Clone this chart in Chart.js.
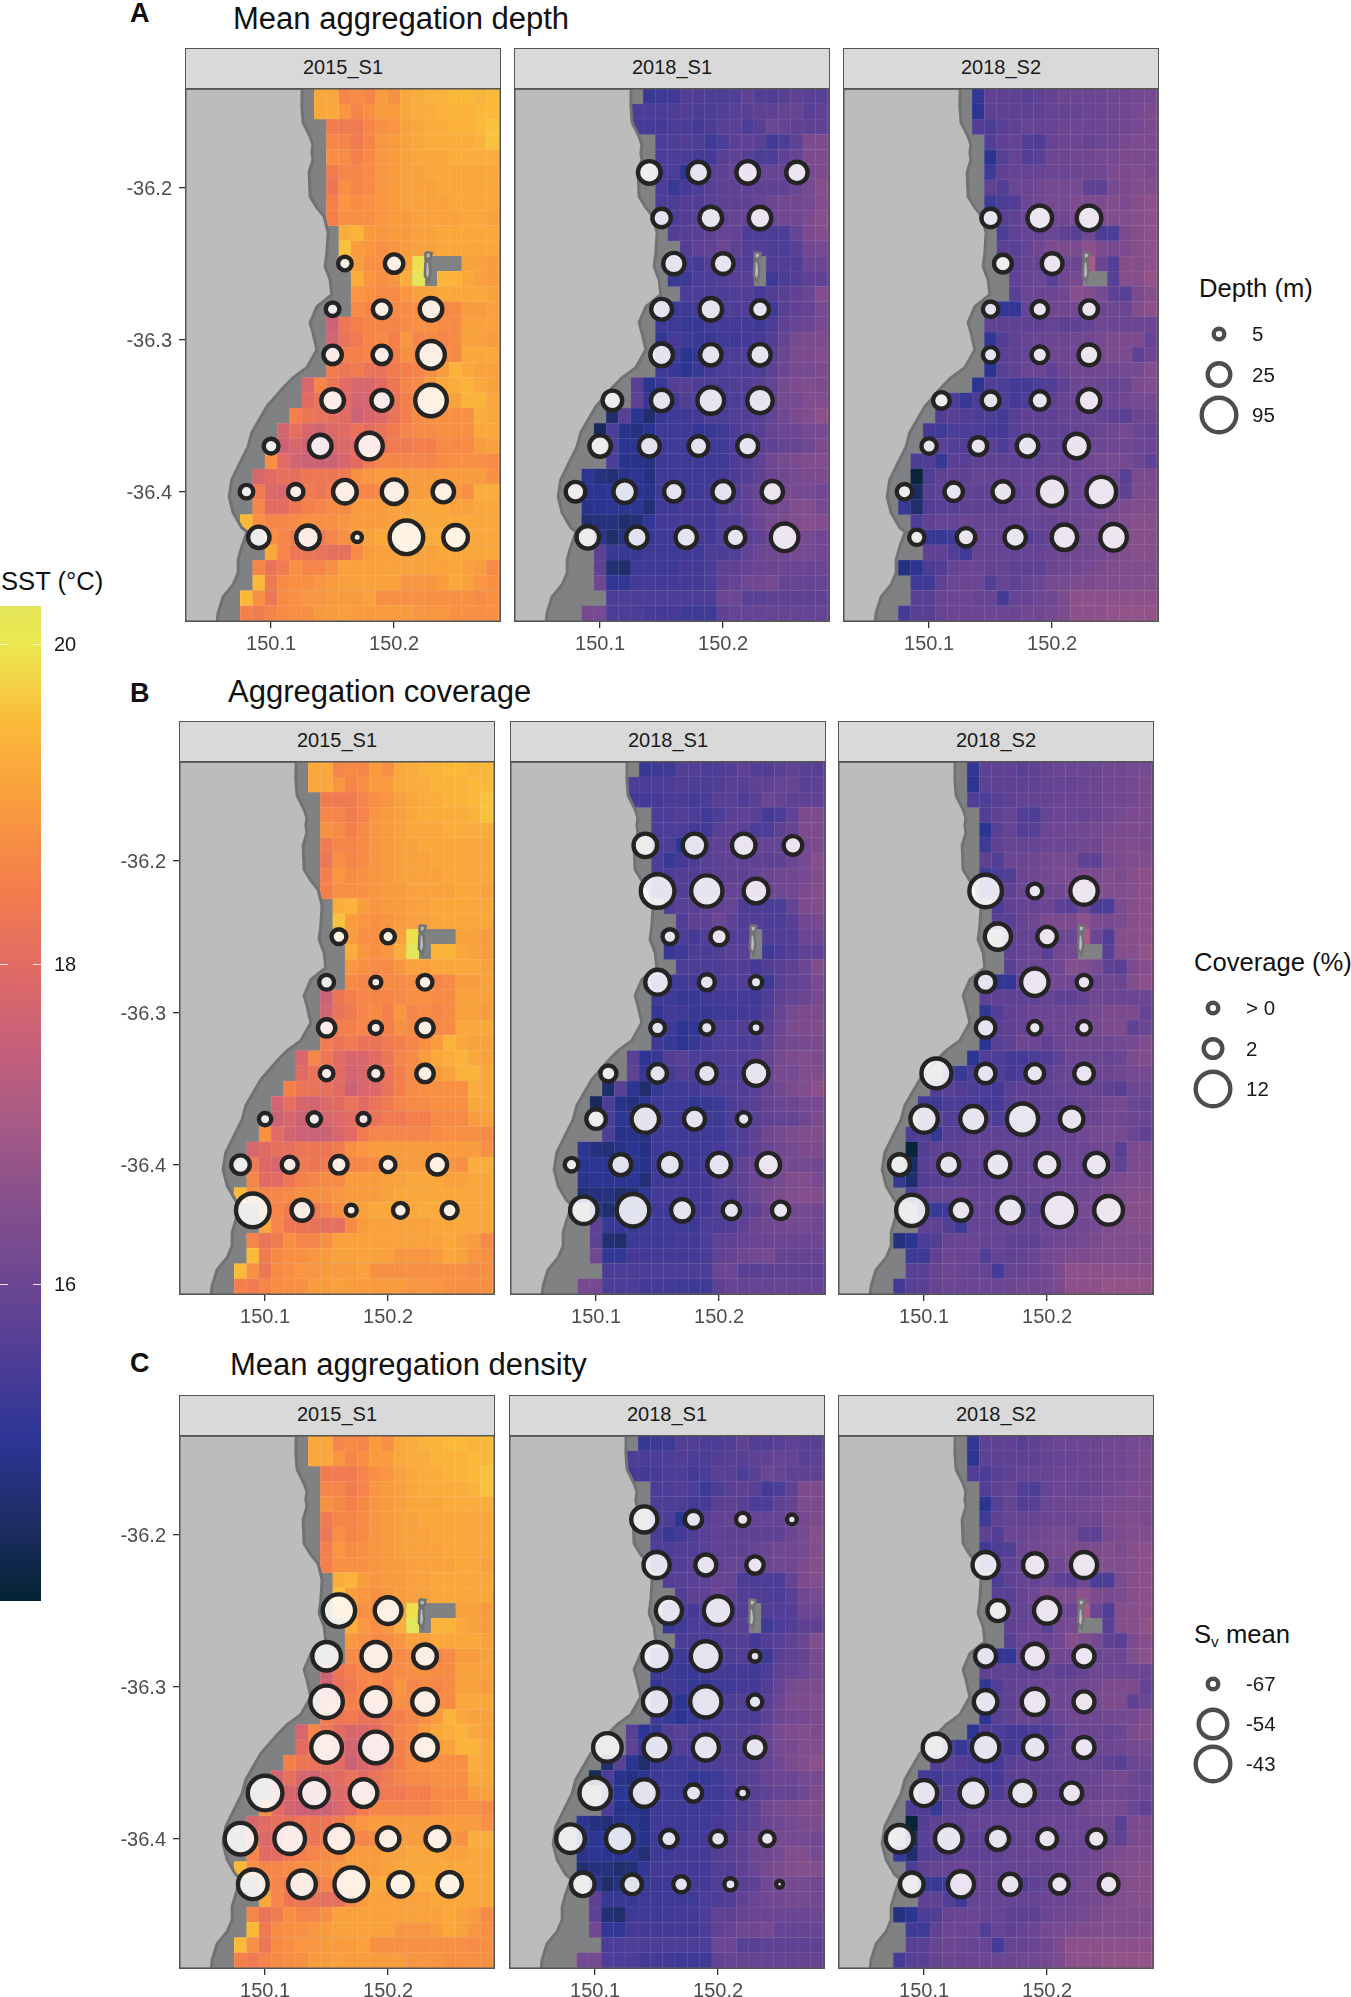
<!DOCTYPE html>
<html lang="en">
<head>
<meta charset="UTF-8" />
<title>Aggregation depth, coverage and density</title>
<script src="https://cdn.jsdelivr.net/npm/chart.js"></script>
<style>
  html, body { margin: 0; padding: 0; background: #fff; overflow: hidden; }
  body { position: relative; width: 1351px; height: 1997px; font-family: "Liberation Sans", Arial, sans-serif; }
  canvas { position: absolute; }
  .txt { position: absolute; white-space: nowrap; line-height: 1; color: #111; }
  .letter { font-size: 27px; font-weight: bold; }
  .title { font-size: 31px; }
  .legtitle { font-size: 25.6px; }
  .strip { position: absolute; box-sizing: border-box; background: #d9d9d9; border: 1.5px solid #555; color: #1a1a1a;
           font-size: 20px; text-align: center; line-height: 37px; }
  sub { font-size: 60%; vertical-align: -4px; line-height: 0; }
</style>
</head>
<body>
<script>
const surveys = ['2015_S1', '2018_S1', '2018_S2'];
const lonTicks = [150.1, 150.2];
const latTicks = [-36.2, -36.3, -36.4];
const lonRange = [150.03, 150.2869];
const latRange = [-36.4857, -36.1345];

// SST grid, tenths of a degree C. One row per 0.01 deg of latitude, -36.14 first.
// Rows are right aligned on the 150.29 column; anything left of a row or null has no SST.
const firstLat = -36.14;
const lastLon = 150.29;
const sst2015 = [
[192,192,186,187,186,190,188,192,193,194,194,195,195,194,195,195],
[192,192,189,186,188,190,190,192,193,193,194,194,194,195,195,195],
[184,184,184,186,188,189,191,192,193,193,194,194,195,196,196],
[186,186,184,186,189,190,191,192,193,193,193,193,194,196,196],
[188,187,185,187,189,190,191,192,192,192,193,193,193,193,192],
[184,186,186,187,189,190,191,191,192,192,192,192,192,192,192],
[183,188,186,187,189,190,191,191,191,192,192,192,192,192,192],
[185,189,187,188,189,190,191,191,191,191,192,192,192,192,192],
[185,188,188,188,189,190,190,191,191,191,191,192,192,191,191],
[193,194,190,189,190,190,191,191,192,192,192,192,192,192],
[196,190,189,188,189,190,191,191,192,192,192,192,192,190],
[193,190,188,188,189,191,199,null,null,null,191,191,190,190],
[193,189,188,189,193,205,null,194,194,192,191,190,190],
[189,188,187,187,189,191,191,192,192,192,192,191,191],
[187,186,187,187,187,188,188,186,187,190,190,191,191],
[176,183,185,186,186,186,187,188,188,187,187,191,191,191,191],
[177,182,184,186,187,185,189,186,187,186,187,191,191,190,191],
[181,185,185,186,186,185,188,187,187,187,187,192,192,192,191],
[184,183,184,182,182,184,185,186,188,190,194,192,191,191,191],
[178,186,183,180,178,178,180,183,186,187,190,192,193,194,192,191,191],
[180,182,183,180,177,178,179,182,185,187,189,190,191,194,194,192,192],
[185,183,182,181,180,176,178,179,182,185,187,188,188,188,188,193,192,192],
[177,181,178,177,179,180,182,180,182,184,186,187,187,188,188,188,192,192,192],
[176,178,176,176,178,179,180,181,182,184,184,185,185,187,187,187,190,191,191],
[188,180,177,176,176,176,178,180,184,186,186,186,186,186,187,188,188,188,187,187],
[178,180,181,181,183,183,183,184,188,189,190,190,190,190,190,190,190,190,190,188,188],
[184,179,178,182,184,183,184,186,186,186,187,188,190,190,190,190,189,188,193,193,193],
[186,180,180,183,185,186,187,187,190,190,190,191,191,192,192,192,191,191,192,192,192],
[195,188,186,186,187,188,188,188,189,190,190,190,191,192,192,192,192,192,192,192,192,192],
[188,186,184,184,184,186,188,190,191,192,192,192,192,193,193,193,192,192,192,192],
[192,186,183,183,182,181,181,187,190,191,191,191,191,191,192,192,192,192,192,192],
[186,182,184,188,186,186,188,191,191,191,191,191,191,191,191,191,192,191,190,187,187],
[195,184,187,188,188,189,190,191,191,191,191,191,189,189,189,190,192,191,189,188,188],
[195,188,183,187,188,189,189,190,190,190,191,188,188,188,188,188,188,188,188,187,188,188],
[185,184,186,187,188,188,190,190,191,190,190,190,190,190,189,189,189,188,188,188,188,188]
];
const sst2018a = [
[152,153,153,156,156,155,155,156,158,156,156,157,158,157,157,158],
[155,155,155,155,156,155,155,156,157,157,158,158,159,159,157,158,158],
[154,154,154,155,155,154,155,157,157,155,157,160,159,158,158,158,158],
[155,155,156,155,153,155,157,158,157,154,155,158,163,163,163],
[155,155,155,154,154,157,158,157,155,155,158,159,163,163,163],
[155,155,150,153,157,158,159,159,159,159,159,160,162,163,163],
[155,152,154,155,157,158,158,158,158,158,158,160,162,165,165],
[155,155,156,156,157,158,158,158,159,160,161,161,162,164,164],
[152,155,156,157,157,158,159,159,159,160,161,161,163,165,165],
[156,157,157,158,159,159,155,155,155,155,159,163,164,164],
[156,158,158,160,158,156,156,155,155,157,161,162,162],
[154,155,154,156,157,156,156,null,156,156,156,160,160,160],
[152,153,155,155,156,157,157,null,153,155,156,158,158,158],
[155,155,155,155,156,156,154,156,157,158,160,164,164],
[153,153,153,154,154,155,155,156,155,153,157,158,159,162,162],
[153,153,152,152,153,154,154,154,153,155,158,159,160,162,162],
[151,154,153,152,152,153,153,154,154,156,159,162,163,163,163],
[152,153,150,151,154,155,155,156,156,157,160,163,163,164,164],
[153,152,150,152,154,155,155,155,155,158,160,162,162,163,163],
[157,150,152,156,157,155,155,155,156,156,157,159,162,163,164,163,163],
[158,152,152,154,156,155,155,155,155,156,157,159,162,162,164,164,164],
[146,157,150,146,152,153,153,154,155,155,156,156,157,159,161,163,164,166,166],
[144,155,149,148,150,153,153,153,151,152,153,155,156,157,159,160,160,162,162,162],
[155,150,150,152,153,153,153,153,153,153,155,156,157,158,159,159,161,163,163],
[155,149,149,148,153,153,153,153,153,153,155,156,158,161,162,163,164,164,164],
[150,148,147,149,150,148,153,153,153,153,153,154,155,156,158,160,161,162,163,163,163],
[150,150,150,150,150,149,153,153,153,153,154,155,156,158,160,161,162,162,162,161,161],
[149,150,150,150,150,147,153,153,154,154,154,156,157,158,160,161,162,164,164,162,162],
[147,148,148,146,147,151,154,154,154,154,154,156,156,158,160,162,163,164,165,164,164],
[150,146,148,150,152,153,153,153,154,154,156,156,157,158,161,162,162,162,161,161],
[158,152,152,152,153,153,153,153,153,155,155,156,158,160,161,161,162,162,161,161],
[158,147,146,153,153,153,153,154,154,155,158,158,159,160,160,160,160,160,160,160],
[161,151,151,154,154,154,154,154,154,155,158,159,161,161,162,159,159,159,159,159],
[155,155,155,155,155,155,155,155,155,160,160,157,157,158,158,158,158,158,158],
[162,162,155,155,155,154,154,154,153,153,153,158,159,159,159,159,159,159,159,159,159]
];
const sst2018b = [
[151,158,158,158,157,158,159,160,160,160,160,161,161,162,162,162],
[150,158,158,158,158,158,159,159,159,160,160,161,161,162,163,163],
[156,155,157,158,159,159,159,160,160,160,160,161,161,162,163,163],
[156,158,159,156,155,159,160,160,159,160,161,162,163,163,163],
[150,157,159,156,157,160,160,161,161,162,162,163,163,163,163],
[153,158,159,159,159,160,160,160,161,161,163,163,164,163,163],
[158,156,160,160,161,162,162,162,158,158,162,163,164,164,164],
[153,155,156,160,161,162,162,163,163,163,164,163,165,166,166],
[157,157,158,160,161,161,161,163,163,164,164,164,165,166,166],
[155,158,159,159,160,158,157,161,155,155,163,165,166,166],
[157,157,159,161,163,163,163,166,163,162,163,165,166,166],
[158,159,159,161,160,160,170,160,156,165,165,166,166],
[158,159,160,157,161,162,null,null,157,165,165,167,167],
[157,160,160,160,161,165,164,162,158,157,163,165,165],
[153,151,151,159,160,161,161,161,160,160,161,160,164,166,166],
[158,158,158,158,158,159,158,158,159,161,160,160,160,160,160],
[151,156,158,159,160,160,160,161,161,162,163,163,163,159,159],
[154,157,158,159,160,160,160,161,161,162,163,163,158,160,160],
[150,157,158,160,160,158,160,161,161,161,161,162,162,164,164],
[150,156,155,154,154,155,156,158,160,160,160,159,160,163,164,164],
[155,152,155,156,156,154,155,158,158,159,160,160,160,160,161,162,162,162],
[156,157,156,155,155,154,157,158,158,158,159,159,160,159,158,157,160,161,161],
[154,153,155,155,155,154,154,157,158,158,158,158,159,159,160,161,162,160,159,159],
[157,157,156,156,157,157,155,158,158,158,158,158,159,160,160,161,161,160,160,160],
[155,156,152,157,157,158,158,158,158,158,158,159,159,159,161,162,162,162,160,158,158],
[141,156,158,158,158,159,159,159,159,159,159,160,160,160,160,161,161,157,163,163,163],
[145,157,158,158,158,158,158,158,158,159,159,159,159,160,160,160,160,158,163,163,163],
[152,146,156,157,157,158,158,158,158,159,159,160,160,160,160,160,161,162,163,164,164,164],
[155,158,159,159,160,159,159,159,159,159,159,159,160,160,161,162,163,164,165,165,165],
[152,152,153,159,159,159,159,158,156,158,159,160,160,162,162,163,164,165,165,165],
[158,158,156,153,159,159,159,159,159,159,160,160,161,161,162,163,164,165,165,165],
[148,150,155,156,159,160,160,159,159,158,158,158,160,161,161,162,163,164,164,164,164,164],
[153,153,158,160,160,160,156,159,158,159,160,162,162,163,163,164,164,164,164,165,165],
[157,157,159,160,160,159,159,154,159,159,160,161,163,166,166,166,166,166,166,166,166],
[154,157,157,159,160,160,160,160,160,160,161,161,162,163,166,166,166,167,167,167,167,167]
];

// stations sampled per survey
const lon2015 = [150.16,150.20, 150.15,150.19,150.23, 150.15,150.19,150.23, 150.15,150.19,150.23, 150.10,150.14,150.18, 150.08,150.12,150.16,150.20,150.24, 150.09,150.13,150.17,150.21,150.25];
const lat2015 = [-36.25,-36.25, -36.28,-36.28,-36.28, -36.31,-36.31,-36.31, -36.34,-36.34,-36.34, -36.37,-36.37,-36.37, -36.40,-36.40,-36.40,-36.40,-36.40, -36.43,-36.43,-36.43,-36.43,-36.43];
const lon2018a = [150.14,150.18,150.22,150.26, 150.15,150.19,150.23, 150.16,150.20, 150.15,150.19,150.23, 150.15,150.19,150.23, 150.11,150.15,150.19,150.23, 150.10,150.14,150.18,150.22, 150.08,150.12,150.16,150.20,150.24, 150.09,150.13,150.17,150.21,150.25];
const lat2018a = [-36.19,-36.19,-36.19,-36.19, -36.22,-36.22,-36.22, -36.25,-36.25, -36.28,-36.28,-36.28, -36.31,-36.31,-36.31, -36.34,-36.34,-36.34,-36.34, -36.37,-36.37,-36.37,-36.37, -36.40,-36.40,-36.40,-36.40,-36.40, -36.43,-36.43,-36.43,-36.43,-36.43];
const lon2018b = [150.15,150.19,150.23, 150.16,150.20, 150.15,150.19,150.23, 150.15,150.19,150.23, 150.11,150.15,150.19,150.23, 150.10,150.14,150.18,150.22, 150.08,150.12,150.16,150.20,150.24, 150.09,150.13,150.17,150.21,150.25];
const lat2018b = [-36.22,-36.22,-36.22, -36.25,-36.25, -36.28,-36.28,-36.28, -36.31,-36.31,-36.31, -36.34,-36.34,-36.34,-36.34, -36.37,-36.37,-36.37,-36.37, -36.40,-36.40,-36.40,-36.40,-36.40, -36.43,-36.43,-36.43,-36.43,-36.43];

const depth2015 = [10,18, 10,17,25, 18,18,54, 25,22,77, 12,25,48, 10,13,31,37,23, 23,31,3,89,37];
const depth2018a = [25,23,25,23, 18,25,25, 23,22, 22,25,17, 25,23,23, 20,23,48,42, 23,22,20,22, 20,25,20,23,23, 25,23,23,20,54];
const depth2018b = [18,37,37, 17,22, 13,15,17, 13,15,22, 15,17,18,25, 13,17,23,37, 13,18,22,60,66, 13,18,23,42,48];

const coverage2015 = [1.1,0.8, 1.1,0.2,1.1, 1.7,0.5,1.7, 0.8,0.8,1.7, 0.5,0.8,0.5, 2,1.4,1.7,1.1,2.6, 11.4,3.5,0.2,1.1,1.4];
const coverage2018a = [5.1,5.1,5.1,2, 11.4,9.9,5.9, 1.1,1.7, 5.9,1.4,0.5, 1.1,0.8,0.2, 1.4,2,2.6,5.9, 2.6,7.5,3.5,0.8, 0.8,3.5,4.3,5.1,5.1, 7.5,10.7,4.3,1.7,1.7];
const coverage2018b = [10.7,1.1,7.5, 6.7,2.6, 2.6,7.5,1.1, 2.6,0.8,0.8, 9.1,2.6,2,2.6, 7.5,6.7,9.9,5.1, 3.5,3.5,5.9,5.1,5.1, 9.9,3.5,6.7,11.4,8.3];

const density2015 = [-47,-55.4, -54,-54,-57.6, -47,-54,-56.2, -50.3,-48.5,-56.2, -43,-54,-54.7, -48.5,-50.3,-54.7,-58.3,-57.6, -52,-54.7,-45,-57,-57];
const density2018a = [-55.8,-62.2,-65,-67.7, -55.8,-59.5,-62.2, -55.8,-54, -54,-51.6,-66.8, -54.9,-49.2,-64.1, -54,-55.8,-55.8,-59.5, -49.2,-54.9,-62.2,-66.8, -54,-54.9,-62.2,-63.1,-64.1, -57.6,-60.4,-63.1,-65.9,-69.6];
const density2018b = [-55.8,-57.6,-55.8, -59.5,-55.8, -59.5,-56.7,-59.5, -57.6,-55.8,-59.5, -54.9,-54.9,-57.6,-59.5, -55.8,-54.9,-56.7,-59.5, -54.9,-54.9,-58.5,-60.4,-61.3, -57.6,-55.8,-59.5,-61.3,-60.4];

// legend breaks
const depthBreaks = [5, 25, 95];
const depthLabels = ['5', '25', '95'];
const coverageBreaks = [0.1, 2, 12];
const coverageLabels = ['> 0', '2', '12'];
const densityBreaks = [-67, -54, -43];
const densityLabels = ['-67', '-54', '-43'];

// colour bar
const sstRange = [14.02, 20.24];
const sstTicks = [16, 18, 20];
const sstStopValues = [14.02, 14.5, 15.03, 15.5, 16, 16.5, 17, 17.5, 18, 18.5, 19, 19.5, 20, 20.24];
const sstStopColours = ['#042333','#1d2d63','#2d3595','#4c3d96','#6b4692','#854f8c','#a65a85','#c6607a','#e26c63','#f47f4b','#f99c3e','#fbb93a','#ebe84f','#e3e65a'];

// coastline and Montague Island outlines
const coastLon = [150.02,150.1252,150.125,150.126,150.1317,150.1339,150.1331,150.134,150.1309,150.1317,150.1372,150.1431,150.1463,150.1453,150.1439,150.148,150.1493,150.1372,150.1317,150.134,150.1372,150.129,150.1179,150.1098,150.0965,150.0843,150.0813,150.0748,150.068,150.0659,150.0691,150.0762,150.0805,150.0762,150.0732,150.0732,150.0691,150.061,150.0569,150.0561,150.02];
const coastLat = [-36.1349,-36.1349,-36.1467,-36.1572,-36.1664,-36.1717,-36.177,-36.1816,-36.1901,-36.2059,-36.2132,-36.2191,-36.2296,-36.2428,-36.252,-36.2605,-36.2704,-36.2783,-36.2888,-36.2954,-36.3066,-36.3184,-36.325,-36.3316,-36.3441,-36.3612,-36.3704,-36.3809,-36.3921,-36.4033,-36.4138,-36.4237,-36.4263,-36.4362,-36.4447,-36.4533,-36.4612,-36.4691,-36.4796,-36.4858,-36.4858];
const islandNorthLon = [150.2255,150.2305,150.2295,150.2255,150.2255];
const islandNorthLat = [-36.2425,-36.243,-36.2465,-36.247,-36.2425];
const islandMainLon = [150.2255,150.2285,150.2295,150.228,150.225,150.2255];
const islandMainLat = [-36.2485,-36.2485,-36.2555,-36.2615,-36.258,-36.2485];

const rows = [
  { letter: 'A', name: 'Mean aggregation depth', top: 88, left: [185, 514, 843], titleX: 233, titleY: 18, letterY: 13,
    values: [depth2015, depth2018a, depth2018b], breaks: depthBreaks, diam: [15, 27, 39] },
  { letter: 'B', name: 'Aggregation coverage', top: 761, left: [179, 510, 838], titleX: 228, titleY: 691, letterY: 693,
    values: [coverage2015, coverage2018a, coverage2018b], breaks: coverageBreaks, diam: [15, 23, 39] },
  { letter: 'C', name: 'Mean aggregation density', top: 1435, left: [179, 509, 838], titleX: 230, titleY: 1364, letterY: 1363,
    values: [density2015, density2018a, density2018b], breaks: densityBreaks, diam: [15, 33, 39] }
];
const grids = [sst2015, sst2018a, sst2018b];
const stationLons = [lon2015, lon2018a, lon2018b];
const stationLats = [lat2015, lat2018a, lat2018b];

const panelW = 316, panelH = 534, stripH = 41, yAxisW = 62, xAxisH = 44;
const ringW = 4.4;

Chart.defaults.font.family = '"Liberation Sans", Arial, sans-serif';
Chart.defaults.animation = false;

function addText(cls, html, x, y) {
  const d = document.createElement('div');
  d.className = 'txt ' + cls;
  d.innerHTML = html;
  d.style.left = x + 'px';
  d.style.top = y + 'px';
  document.body.appendChild(d);
  // y is the vertical centre of the text
  d.style.top = (y - d.offsetHeight / 2) + 'px';
}

function addCanvas(x, y, w, h) {
  const c = document.createElement('canvas');
  c.width = w;
  c.height = h;
  c.style.left = x + 'px';
  c.style.top = y + 'px';
  c.style.width = w + 'px';
  c.style.height = h + 'px';
  document.body.appendChild(c);
  return c.getContext('2d');
}

function hexToRgb(h) {
  return [parseInt(h.slice(1, 3), 16), parseInt(h.slice(3, 5), 16), parseInt(h.slice(5, 7), 16)];
}

function sstColour(v, lighten) {
  let i = 0;
  while (i < sstStopValues.length - 2 && v > sstStopValues[i + 1]) i++;
  const t = Math.min(1, Math.max(0, (v - sstStopValues[i]) / (sstStopValues[i + 1] - sstStopValues[i])));
  const a = hexToRgb(sstStopColours[i]), b = hexToRgb(sstStopColours[i + 1]);
  const mix = a.map((c, k) => {
    const m = c + (b[k] - c) * t;
    return Math.round(m + (255 - m) * (lighten || 0));
  });
  return `rgb(${mix[0]},${mix[1]},${mix[2]})`;
}

function outerDiameter(v, breaks, diam) {
  let i = v > breaks[1] ? 1 : 0;
  return diam[i] + (v - breaks[i]) * (diam[i + 1] - diam[i]) / (breaks[i + 1] - breaks[i]);
}

function zip(xs, ys) {
  return xs.map((x, i) => ({ x: x, y: ys[i] }));
}

function cellData(grid) {
  const out = [];
  grid.forEach((row, r) => {
    const lat = firstLat - r * 0.01;
    row.forEach((v, i) => {
      if (v === null) return;
      const lon = lastLon - (row.length - 1 - i) * 0.01;
      out.push({ x: +lon.toFixed(2), y: [lat - 0.005, lat + 0.005], sst: v / 10 });
    });
  });
  return out;
}

const panelFrame = {
  id: 'panelFrame',
  beforeDatasetsDraw(chart) {
    const a = chart.chartArea, c = chart.ctx;
    c.save();
    c.fillStyle = '#808183';
    c.fillRect(a.left, a.top, a.width, a.height);
    c.restore();
  },
  afterDatasetsDraw(chart) {
    const a = chart.chartArea, c = chart.ctx;
    c.save();
    c.strokeStyle = '#555';
    c.lineWidth = 1.5;
    c.strokeRect(a.left + 0.75, a.top + 0.75, a.width - 1.5, a.height - 1.5);
    c.restore();
  }
};

// tick labels must not add padding to the plot area, panels have fixed sizes
function noPad(s) {
  s.paddingTop = s.paddingBottom = s.paddingLeft = s.paddingRight = 0;
}

function makePanel(row, col) {
  const px = row.left[col];
  const isFirst = col === 0;
  const ctx = addCanvas(isFirst ? px - yAxisW : px, row.top, panelW + (isFirst ? yAxisW : 0), panelH + xAxisH);
  const bubbles = stationLons[col].map((lon, i) => ({
    x: lon,
    y: stationLats[col][i],
    r: (outerDiameter(row.values[col][i], row.breaks, row.diam) - ringW) / 2
  }));
  const landLine = (xs, ys, fillCol, order, bw) => ({
    type: 'scatter', data: zip(xs, ys), showLine: true, fill: 'shape', tension: 0,
    backgroundColor: fillCol, borderColor: '#717274', borderWidth: bw, pointRadius: 0, order: order
  });
  new Chart(ctx, {
    type: 'bar',
    data: {
      datasets: [
        { type: 'bubble', data: bubbles, backgroundColor: 'rgba(255,255,255,0.86)', borderColor: '#242424',
          borderWidth: ringW, order: 0 },
        landLine(islandNorthLon, islandNorthLat, '#b9b9b9', 1, 2.5),
        landLine(islandMainLon, islandMainLat, '#b9b9b9', 1, 2.5),
        landLine(coastLon, coastLat, '#bdbcbd', 2, 3),
        { type: 'bar', data: cellData(grids[col]), order: 3, barThickness: 12.3, barPercentage: 1,
          categoryPercentage: 1, borderSkipped: false, borderWidth: 0.45,
          backgroundColor: c => sstColour(c.raw.sst, 0),
          borderColor: c => sstColour(c.raw.sst, 0.2) }
      ]
    },
    plugins: [panelFrame],
    options: {
      responsive: false,
      devicePixelRatio: 1,
      events: [],
      layout: { padding: 0, autoPadding: false },
      plugins: { legend: { display: false }, tooltip: { enabled: false }, title: { display: false } },
      scales: {
        x: {
          type: 'linear', min: lonRange[0], max: lonRange[1], offset: false,
          afterBuildTicks: s => { s.ticks = lonTicks.map(v => ({ value: v })); },
          afterFit: s => { s.height = xAxisH; noPad(s); },
          grid: { offset: false, drawOnChartArea: false, drawTicks: true, tickLength: 6, color: '#333', lineWidth: 1.3 },
          border: { display: false },
          ticks: { callback: v => v.toFixed(1), color: '#4d4d4d', font: { size: 20 }, padding: 4, autoSkip: false, maxRotation: 0 }
        },
        y: {
          type: 'linear', min: latRange[0], max: latRange[1], display: isFirst,
          afterBuildTicks: s => { s.ticks = latTicks.map(v => ({ value: v })); },
          afterFit: s => { if (isFirst) s.width = yAxisW; noPad(s); },
          grid: { drawOnChartArea: false, drawTicks: true, tickLength: 6, color: '#333', lineWidth: 1.3 },
          border: { display: false },
          ticks: { callback: v => v.toFixed(1), color: '#4d4d4d', font: { size: 20 }, padding: 7, labelOffset: 1.5, autoSkip: false }
        }
      }
    }
  });
}

function makeSizeLegend(labels, breaks, diam, cx, yTop, yBottom) {
  const halfW = 25, axisW = 50, pad = 26;
  const ctx = addCanvas(cx - halfW, yTop - pad, halfW * 2 + axisW, yBottom - yTop + pad * 2);
  const pts = labels.map((l, i) => ({ x: 0, y: l, r: (diam[i] - 4.4) / 2 }));
  new Chart(ctx, {
    type: 'bubble',
    data: { datasets: [{ data: pts, backgroundColor: '#fff', borderColor: '#4d4d4d', borderWidth: 4.4, clip: false }] },
    options: {
      responsive: false,
      devicePixelRatio: 1,
      events: [],
      layout: { padding: { top: pad, bottom: pad }, autoPadding: false },
      plugins: { legend: { display: false }, tooltip: { enabled: false } },
      scales: {
        x: { type: 'linear', min: -1, max: 1, display: false },
        y: {
          type: 'category', labels: labels, position: 'right', offset: false,
          afterFit: s => { s.width = axisW; noPad(s); },
          grid: { display: false }, border: { display: false },
          ticks: { color: '#1a1a1a', font: { size: 20.5 }, padding: 0, labelOffset: 1.5, autoSkip: false }
        }
      }
    }
  });
}

function makeColourBar() {
  const barW = 41, axisW = 50, top = 606, bottom = 1601;
  const ctx = addCanvas(0, top, barW + axisW, bottom - top);
  const tickMarks = {
    id: 'tickMarks',
    afterDatasetsDraw(chart) {
      const a = chart.chartArea, c = chart.ctx, y = chart.scales.y;
      c.save();
      c.strokeStyle = 'rgba(255,255,255,0.85)';
      c.lineWidth = 1;
      sstTicks.forEach(v => {
        const py = Math.round(y.getPixelForValue(v)) + 0.5;
        c.beginPath();
        c.moveTo(a.left, py); c.lineTo(a.left + 8, py);
        c.moveTo(a.right - 8, py); c.lineTo(a.right, py);
        c.stroke();
      });
      c.restore();
    }
  };
  new Chart(ctx, {
    type: 'bar',
    data: {
      labels: ['SST'],
      datasets: [{
        data: [sstRange],
        barPercentage: 1, categoryPercentage: 1, borderSkipped: false,
        backgroundColor: c => {
          const a = c.chart.chartArea;
          if (!a) return '#888';
          const g = c.chart.ctx.createLinearGradient(0, a.bottom, 0, a.top);
          sstStopValues.forEach((v, i) => {
            g.addColorStop((v - sstRange[0]) / (sstRange[1] - sstRange[0]), sstStopColours[i]);
          });
          return g;
        }
      }]
    },
    plugins: [tickMarks],
    options: {
      responsive: false,
      devicePixelRatio: 1,
      events: [],
      layout: { padding: 0, autoPadding: false },
      plugins: { legend: { display: false }, tooltip: { enabled: false } },
      scales: {
        x: { display: false },
        y: {
          position: 'right', min: sstRange[0], max: sstRange[1],
          afterBuildTicks: s => { s.ticks = sstTicks.map(v => ({ value: v })); },
          afterFit: s => { s.width = axisW; noPad(s); },
          grid: { display: false }, border: { display: false },
          ticks: { color: '#1a1a1a', font: { size: 20 }, padding: 5, labelOffset: 1.5, autoSkip: false }
        }
      }
    }
  });
}

rows.forEach(row => {
  addText('letter', row.letter, 130, row.letterY);
  addText('title', row.name, row.titleX, row.titleY);
  surveys.forEach((name, col) => {
    const s = document.createElement('div');
    s.className = 'strip';
    s.textContent = name;
    s.style.left = row.left[col] + 'px';
    s.style.top = (row.top - stripH + 1) + 'px';
    s.style.width = panelW + 'px';
    s.style.height = stripH + 'px';
    document.body.appendChild(s);
    makePanel(row, col);
  });
});

addText('legtitle', 'Depth (m)', 1199, 289);
makeSizeLegend(depthLabels, depthBreaks, rows[0].diam, 1219, 334, 415);
addText('legtitle', 'Coverage (%)', 1194, 963);
makeSizeLegend(coverageLabels, coverageBreaks, rows[1].diam, 1213, 1008, 1089);
addText('legtitle', 'S<sub>v</sub> mean', 1194, 1635);
makeSizeLegend(densityLabels, densityBreaks, rows[2].diam, 1213, 1684, 1764);

addText('legtitle', 'SST (°C)', 1, 582);
makeColourBar();
</script>
</body>
</html>
